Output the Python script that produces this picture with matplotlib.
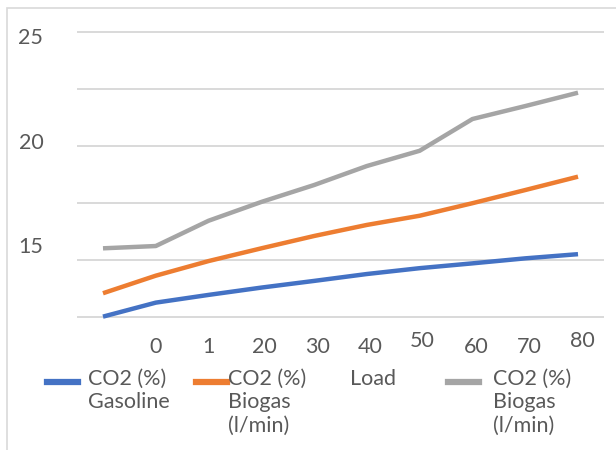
import numpy as np
import matplotlib
matplotlib.use("Agg")
import matplotlib.pyplot as plt
from matplotlib.lines import Line2D
from matplotlib.patches import Rectangle
from matplotlib.transforms import ScaledTranslation

plt.rcParams['font.family'] = ['Lato', 'DejaVu Sans']

# --- data ---
x_labels = ["", "0", "1", "20", "30", "40", "50", "60", "70", "80"]
co2_gasoline = [11.57, 12.24, 12.61, 12.96, 13.28, 13.61, 13.89, 14.12, 14.36, 14.56]
co2_biogas = [12.69, 13.53, 14.23, 14.84, 15.43, 15.96, 16.40, 17.00, 17.63, 18.27]
co2_biogas_2 = [14.84, 14.95, 16.16, 17.06, 17.87, 18.78, 19.51, 21.03, 21.65, 22.29]
y_labels = [15, 20, 25]
grid_levels = np.linspace(11.56, 25.19, 6)

series_labels = ["CO2 (%)\nGasoline", "CO2 (%)\nBiogas\n(l/min)", "Load", "CO2 (%)\nBiogas\n(l/min)"]
colors = ["#4472C4", "#ED7D31", None, "#A5A5A5"]
TXT = "#595959"
GRID = "#D9D9D9"

W, H = 616, 450
fig = plt.figure(figsize=(W / 100, H / 100), dpi=100)
ax = fig.add_axes([76.6 / W, (H - 330) / H, 527.8 / W, 310 / H])

x = np.arange(len(x_labels))
for vals, c in zip([co2_gasoline, co2_biogas, co2_biogas_2], [colors[0], colors[1], colors[3]]):
    ax.plot(x, vals, color=c, lw=3.2, solid_capstyle="butt", clip_on=False, zorder=3)

ax.set_xlim(-0.5, len(x_labels) - 0.5)
ax.set_ylim(10.93, 25.77)

ax.set_yticks(y_labels)
ax.set_yticklabels([str(v) for v in y_labels])
ax.set_yticks(grid_levels, minor=True)
ax.grid(which="minor", axis="y", color=GRID, lw=1.4)
ax.tick_params(axis="y", which="both", length=0, pad=24, labelsize=15.5, labelcolor=TXT)

ax.set_xticks(x)
ax.set_xticklabels(x_labels)
ax.tick_params(axis="x", length=0, pad=5, labelsize=15.5, labelcolor=TXT)
# text boxes in the original sit a little off the category centres
nudges = {"20": (3, 0), "30": (3, 0), "40": (3, 0), "50": (3, 6), "60": (4, 0), "70": (4, 0), "80": (4, 6)}
for lbl in ax.get_xticklabels():
    dx, dy = nudges.get(lbl.get_text(), (0, 0))
    lbl.set_transform(lbl.get_transform() + ScaledTranslation(dx / 100, dy / 100, fig.dpi_scale_trans))

for s in ax.spines.values():
    s.set_visible(False)

# chart area border (only top and left are visible in the crop)
fig.add_artist(Rectangle((7 / W, -0.1), 1.0, (H - 8) / H + 0.1, transform=fig.transFigure,
                         fill=False, edgecolor=GRID, lw=1.2))

# legend, laid out by hand like the Excel one
handle_x = [47, 196, None, 448]
text_x = [88, 228, 350, 493]
for hx, tx, lab, c in zip(handle_x, text_x, series_labels, colors):
    if hx is not None:
        fig.add_artist(Line2D([hx / W, (hx + 31) / W], [(H - 382) / H] * 2, color=c, lw=4.5,
                              transform=fig.transFigure))
    fig.text(tx / W, (H - 369) / H, lab, ha="left", va="top", fontsize=15.5, color=TXT, linespacing=1.2)

fig.savefig("out.png", dpi=100)
